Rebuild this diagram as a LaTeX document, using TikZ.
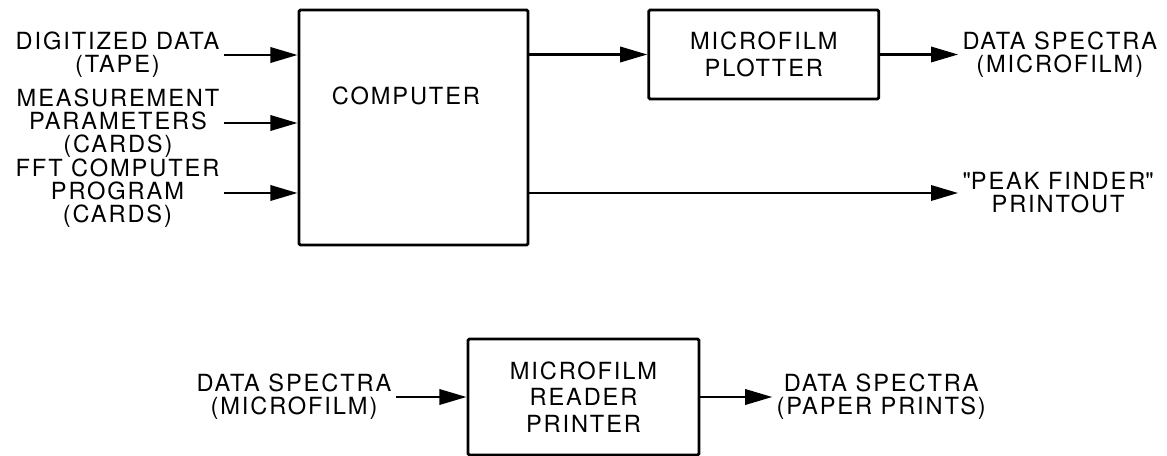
\documentclass[tikz,border=0pt]{standalone}
\usepackage{fontspec}
\setmainfont[LetterSpace=8]{TeX Gyre Heros}
\usepackage{tikz}
\usetikzlibrary{arrows.meta, positioning}

\begin{document}
\begin{tikzpicture}[
    blockbox/.style={rectangle, draw, line width=2pt, rounded corners=1pt, align=center, font=\fontsize{16.8}{19}\selectfont},
    lbl/.style={inner xsep=0.1cm, inner ysep=0pt, align=center, font=\fontsize{16.8}{16.5}\selectfont},
    arr/.style={-{Triangle[length=6.8mm, width=3.8mm]}, line width=2pt}]
    \useasboundingbox (-10.3375,-8.2125) rectangle (18.8375,3.1875);
    % Blocks
    \node[blockbox, minimum width=5.725cm, minimum height=5.875cm] (comp) at (0,0) {};
    \node[lbl] (complbl) at ([shift={(-0.19,-2.175)}]comp.north) {COMPUTER};
    \node[blockbox, minimum width=5.75cm, minimum height=2.225cm, right=2.95cm of comp.north east, anchor=north west] (plot) {MICROFILM\\PLOTTER};
    \node[blockbox, minimum width=5.775cm, minimum height=2.9cm] (reader) at (4.25,-6.7375) {MICROFILM\\READER\\PRINTER};
    % Inputs
    \node[lbl, anchor=east] (in1) at ([shift={(-1.85,1.8125)}]comp.west) {DIGITIZED DATA\\(TAPE)};
    \node[lbl, anchor=east] (in2) at ([shift={(-1.85,0.1125)}]comp.west) {MEASUREMENT\\PARAMETERS\\(CARDS)};
    \node[lbl, anchor=east] (in3) at ([shift={(-1.85,-1.6375)}]comp.west) {FFT COMPUTER\\PROGRAM\\(CARDS)};
    % Outputs
    \node[lbl, right=1.95cm of plot] (out1) {DATA SPECTRA\\(MICROFILM)};
    \node[lbl, anchor=west] (out2) at (out1.west |- in3) {\textquotedbl PEAK FINDER\textquotedbl\\PRINTOUT};
    \node[lbl, left=1.775cm of reader] (inb) {DATA SPECTRA\\(MICROFILM)};
    \node[lbl, right=1.8cm of reader] (outb) {DATA SPECTRA\\(PAPER PRINTS)};
    % Arrows
    \draw[arr] (in1) -- (in1 -| comp.west);
    \draw[arr] (in2) -- (in2 -| comp.west);
    \draw[arr] (in3) -- (in3 -| comp.west);
    \draw[arr] (plot -| comp.east) -- (plot);
    \draw[arr] (out2 -| comp.east) -- (out2);
    \draw[arr] (plot) -- (out1);
    \draw[arr] (inb) -- (reader);
    \draw[arr] (reader) -- (outb);
\end{tikzpicture}
\end{document}
